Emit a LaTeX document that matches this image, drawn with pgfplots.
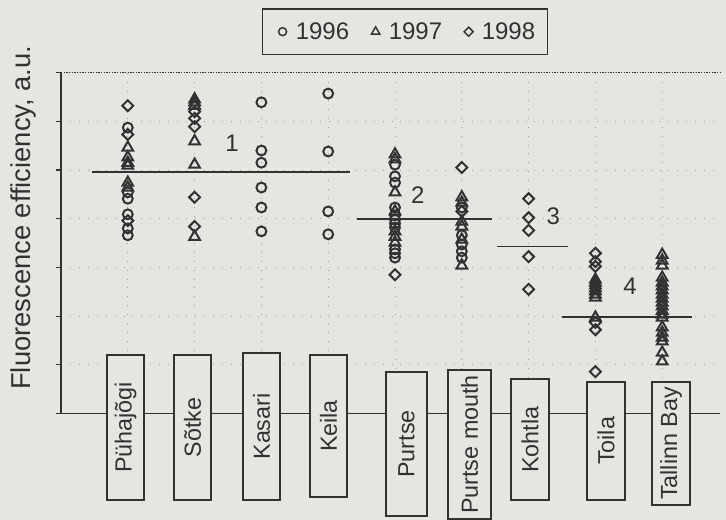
\documentclass[border=0pt]{standalone}
\usepackage{fontspec}
\setmainfont{Liberation Sans}
\usepackage{pgfplots}
\pgfplotsset{compat=1.18}
\definecolor{bg}{RGB}{229,229,226}
\definecolor{ink}{RGB}{50,50,50}
\begin{document}
\begin{tikzpicture}
\begin{scope}[shift={(-45.75pt,310.125pt)},x=0.75pt,y=-0.75pt]
\path[use as bounding box] (0,0) rectangle (726,520);
\fill[bg] (0,0) rectangle (726,520);
\end{scope}
\begin{axis}[
  at={(0,0)}, anchor=south west,
  scale only axis, width=494.25pt, height=255.675pt,
  xmin=0, xmax=9.865, ymin=0, ymax=7,
  clip=false,
  axis line style={draw=none},
  xtick={1,...,9}, xticklabels={}, xtick style={draw=none},
  ytick={0,...,7}, yticklabels={}, ytick pos=left,
  tick align=outside, major tick length=3.5pt,
  ytick style={draw=ink, line width=0.8pt},
  xmajorgrids, ymajorgrids,
  major grid style={draw=gray!75, line width=0.7pt, dash pattern=on 0.7pt off 6pt},
  ylabel={Fluorescence efficiency, a.u.},
  ylabel style={font=\fontsize{20.5}{24}\selectfont, text=ink, at={(axis description cs:-0.047,0.574)}, anchor=base},
  legend columns=3,
  legend style={at={(0.522,1.12)}, anchor=center, draw=ink, line width=1pt, fill=bg,
    font=\fontsize{18}{21}\selectfont, text=ink, inner xsep=7pt, inner ysep=8pt,
    /tikz/every even column/.append style={column sep=10pt}},
]
\draw[ink, line width=1.2pt] (rel axis cs:0,0) -- (rel axis cs:0,1);
\draw[ink, line width=1pt, densely dotted] (rel axis cs:0,1) -- (rel axis cs:1,1);
\draw[ink, line width=0.8pt] (rel axis cs:0,0) -- (rel axis cs:1,0);

\addplot[only marks, mark=o, mark size=3.7pt, ink, line width=1.5pt,
  legend image code/.code={\path (0cm,0cm) (0.5cm,0cm); \draw[ink, line width=1.1pt, mark=o, mark size=3pt] plot coordinates {(0.25cm,0cm)};}]
coordinates {
(1,5.87)(1,4.54)(1,4.41)(1,4.09)(1,3.80)(1,3.66)
(3,6.39)(3,5.40)(3,5.15)(3,4.64)(3,4.23)(3,3.74)
(4,6.57)(4,5.38)(4,4.15)(4,3.68)
(5,5.11)(5,4.87)(5,4.74)(5,4.23)(5,4.07)(5,3.98)(5,3.90)(5,3.82)(5,3.37)(5,3.29)(5,3.20)
(6,4.23)(6,3.66)(6,3.47)(6,3.33)(6,3.20)
};
\addlegendentry{1996}
\addplot[only marks, mark=triangle, mark size=4.6pt, ink, line width=1.5pt,
  legend image code/.code={\path (0cm,0cm) (0.5cm,0cm); \draw[ink, line width=1.1pt, mark=triangle, mark size=3.6pt] plot coordinates {(0.25cm,0cm)};}]
coordinates {
(1,5.46)(1,5.26)(1,5.15)(1,5.09)(1,4.74)(1,4.64)
(2,6.45)(2,6.39)(2,6.32)(2,5.59)(2,5.11)(2,3.63)
(5,5.32)(5,5.22)(5,4.54)(5,4.15)(5,3.74)(5,3.63)(5,3.51)
(6,4.44)(6,4.33)(6,3.94)(6,3.84)(6,3.57)(6,3.04)
(8,2.75)(8,2.69)(8,2.63)(8,2.57)(8,2.51)(8,2.44)(8,2.38)(8,1.97)
(9,3.26)(9,3.14)(9,3.04)(9,2.79)(9,2.69)(9,2.61)(9,2.53)(9,2.44)(9,2.36)(9,2.28)
(9,2.20)(9,2.11)(9,2.03)(9,1.97)(9,1.77)(9,1.66)(9,1.56)(9,1.48)(9,1.25)(9,1.07)
};
\addlegendentry{1997}
\addplot[only marks, mark=square, mark options={rotate=45}, mark size=2.9pt, ink, line width=1.5pt,
  legend image code/.code={\path (0cm,0cm) (0.5cm,0cm); \draw[ink, line width=1.1pt, mark=square, mark options={rotate=45}, mark size=2.4pt] plot coordinates {(0.25cm,0cm)};}]
coordinates {
(1,6.32)(1,5.73)(1,3.96)
(2,6.20)(2,6.06)(2,5.89)(2,4.44)(2,3.84)
(5,2.85)
(6,5.05)(6,4.15)
(7,4.41)(7,4.02)(7,3.76)(7,3.22)(7,2.55)
(8,3.29)(8,3.12)(8,3.02)(8,1.87)(8,1.72)(8,0.86)
};
\addlegendentry{1998}

\addplot[ink, line width=1.4pt, no marks, forget plot] coordinates {(0.46,4.96)(4.33,4.96)};
\addplot[ink, line width=1.4pt, no marks, forget plot] coordinates {(4.43,3.99)(6.45,3.99)};
\addplot[ink, line width=1.4pt, no marks, forget plot] coordinates {(6.53,3.43)(7.59,3.43)};
\addplot[ink, line width=1.4pt, no marks, forget plot] coordinates {(7.50,1.98)(9.45,1.98)};

\node[font=\fontsize{18}{21}\selectfont, text=ink] at (axis cs:2.56,5.55) {1};
\node[font=\fontsize{18}{21}\selectfont, text=ink] at (axis cs:5.34,4.49) {2};
\node[font=\fontsize{18}{21}\selectfont, text=ink] at (axis cs:7.37,4.06) {3};
\node[font=\fontsize{18}{21}\selectfont, text=ink] at (axis cs:8.52,2.62) {4};
\end{axis}
\begin{scope}[shift={(-45.75pt,310.125pt)},x=0.75pt,y=-0.75pt]
\foreach \l/\r/\t/\b/\name in {
  107/144/355/500/Pühajõgi,
  174/211/355/500/Sõtke,
  243/280/353/500/Kasari,
  310/347/355/497/Keila,
  386/427/372/516/Purtse,
  448/491/370/519/Purtse mouth,
  511/549/379/500/Kohtla,
  587/625/382/500/Toila,
  652/690/382/505/Tallinn Bay}{
  \filldraw[fill=bg, draw=ink, line width=1pt] (\l,\t) rectangle (\r,\b);
  \node[rotate=90, font=\fontsize{17.5}{20}\selectfont, text=ink] at ({(\l+\r)/2},{(\t+\b)/2}) {\name};
}
\end{scope}
\end{tikzpicture}
\end{document}
